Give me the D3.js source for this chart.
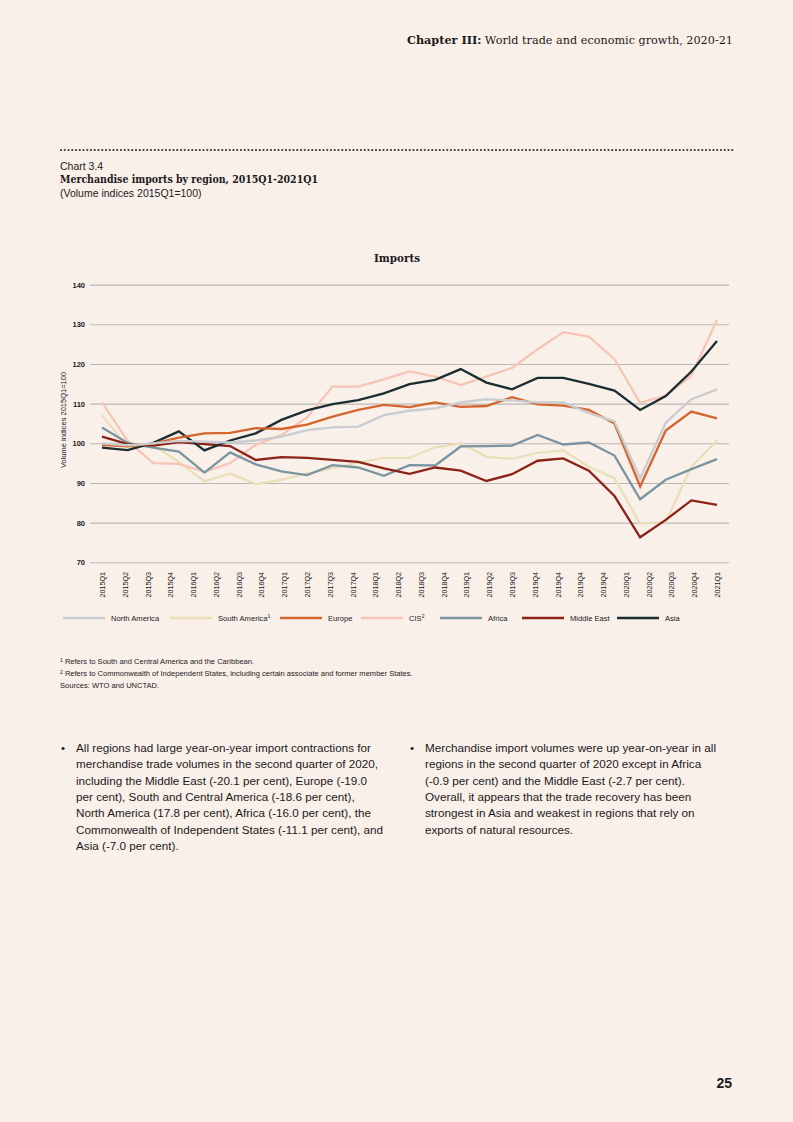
<!DOCTYPE html>
<html>
<head>
<meta charset="utf-8">
<script src="https://cdn.jsdelivr.net/npm/d3@7"></script>
<style>
  html, body { margin: 0; padding: 0; background: #faf0ea; }
  svg { display: block; }
</style>
</head>
<body>
<div id="page"></div>
<script>
// quarters the lines are plotted on
const quarters = [
  "2015Q1", "2015Q2", "2015Q3", "2015Q4",
  "2016Q1", "2016Q2", "2016Q3", "2016Q4",
  "2017Q1", "2017Q2", "2017Q3", "2017Q4",
  "2018Q1", "2018Q2", "2018Q3", "2018Q4",
  "2019Q1", "2019Q2", "2019Q3", "2019Q4",
  "2020Q1", "2020Q2", "2020Q3", "2020Q4",
  "2021Q1"
];

// labels as printed under the axis (the source repeats 2019Q4)
const tickLabels = [
  "2015Q1", "2015Q2", "2015Q3", "2015Q4",
  "2016Q1", "2016Q2", "2016Q3", "2016Q4",
  "2017Q1", "2017Q2", "2017Q3", "2017Q4",
  "2018Q1", "2018Q2", "2018Q3", "2018Q4",
  "2019Q1", "2019Q2", "2019Q3", "2019Q4",
  "2019Q4", "2019Q4", "2019Q4",
  "2020Q1", "2020Q2", "2020Q3", "2020Q4", "2021Q1"
];

const yTicks = [70, 80, 90, 100, 110, 120, 130, 140];

const northAmerica = [100.0, 99.5, 100.0, 100.6, 100.4, 100.2, 100.7, 101.7, 103.3, 104.0, 104.2, 107.1, 108.2, 108.8, 110.3, 111.1, 110.8, 110.3, 110.3, 107.6, 105.5, 91.2, 105.2, 111.1, 113.6];
const southAmerica = [107.1, 99.0, 99.5, 95.3, 90.4, 92.4, 89.7, 90.8, 92.4, 93.7, 95.1, 96.3, 96.3, 99.0, 100.0, 96.6, 96.1, 97.6, 98.2, 94.1, 91.2, 79.7, 80.2, 94.1, 100.7];
const europe = [99.6, 99.2, 99.9, 101.4, 102.5, 102.6, 103.8, 103.6, 104.7, 106.7, 108.4, 109.7, 109.1, 110.3, 109.2, 109.4, 111.6, 109.8, 109.5, 108.4, 105.0, 89.1, 103.2, 108.0, 106.3];
const cis = [110.3, 100.6, 95.0, 94.8, 92.8, 95.0, 99.6, 102.1, 106.5, 114.3, 114.3, 116.1, 118.1, 116.8, 114.7, 116.8, 119.0, 123.7, 128.0, 126.9, 121.2, 110.2, 112.0, 117.1, 131.1];
const africa = [104.0, 100.1, 98.9, 97.9, 92.6, 97.7, 94.7, 92.9, 92.0, 94.5, 93.9, 91.8, 94.5, 94.4, 99.2, 99.3, 99.4, 102.1, 99.7, 100.2, 96.9, 85.9, 90.8, 93.5, 96.0];
const middleEast = [101.7, 99.8, 99.4, 100.3, 99.8, 99.3, 95.8, 96.5, 96.3, 95.8, 95.3, 93.7, 92.3, 93.9, 93.1, 90.5, 92.2, 95.6, 96.2, 93.1, 86.7, 76.3, 80.7, 85.6, 84.5];
const asia = [98.9, 98.3, 100.1, 103.0, 98.2, 100.7, 102.5, 105.9, 108.3, 109.9, 110.9, 112.6, 114.9, 116.0, 118.7, 115.3, 113.6, 116.5, 116.5, 115.0, 113.3, 108.4, 111.9, 118.1, 125.8];

const series = [
  { name: "North America", sup: "", values: northAmerica, color: "#c9ccd0" },
  { name: "South America", sup: "1", values: southAmerica, color: "#eadfb9" },
  { name: "Europe", sup: "", values: europe, color: "#d5652f" },
  { name: "CIS", sup: "2", values: cis, color: "#f6c5b6" },
  { name: "Africa", sup: "", values: africa, color: "#7a95a0" },
  { name: "Middle East", sup: "", values: middleEast, color: "#8b2317" },
  { name: "Asia", sup: "", values: asia, color: "#1b2d32" }
];
// draw order (last on top)
const drawOrder = ["South America", "CIS", "Africa", "Middle East", "Asia", "Europe", "North America"];

const W = 793, H = 1122;
const ink = "#1a1a1a";
const sans = "'Liberation Sans', Arial, sans-serif";
const serif = "'DejaVu Serif', serif";

const svg = d3.select("#page").append("svg")
  .attr("width", W).attr("height", H)
  .attr("viewBox", [0, 0, W, H]);

// running header
const head = svg.append("text")
  .attr("x", 733).attr("y", 44)
  .attr("text-anchor", "end")
  .attr("font-family", serif)
  .attr("font-size", 11.5)
  .attr("fill", ink)
  .attr("textLength", 326)
  .attr("lengthAdjust", "spacingAndGlyphs");
head.append("tspan").attr("font-weight", "bold").text("Chapter III:");
head.append("tspan").text(" World trade and economic growth, 2020-21");

// dotted rule
svg.append("line")
  .attr("x1", 61).attr("x2", 733)
  .attr("y1", 150).attr("y2", 150)
  .attr("stroke", "#333")
  .attr("stroke-width", 2.2)
  .attr("stroke-linecap", "round")
  .attr("stroke-dasharray", "0 3.75");

svg.append("text")
  .attr("x", 60).attr("y", 170)
  .attr("font-family", sans).attr("font-size", 10.5).attr("fill", ink)
  .text("Chart 3.4");
svg.append("text")
  .attr("x", 60).attr("y", 183)
  .attr("font-family", serif).attr("font-size", 10.5).attr("font-weight", "bold").attr("fill", ink)
  .attr("textLength", 258).attr("lengthAdjust", "spacingAndGlyphs")
  .text("Merchandise imports by region, 2015Q1-2021Q1");
svg.append("text")
  .attr("x", 60).attr("y", 197)
  .attr("font-family", sans).attr("font-size", 10.5).attr("fill", ink)
  .text("(Volume indices 2015Q1=100)");

// chart title
svg.append("text")
  .attr("x", 397).attr("y", 262)
  .attr("text-anchor", "middle")
  .attr("font-family", serif).attr("font-size", 11.5).attr("font-weight", "bold").attr("fill", ink)
  .attr("textLength", 46).attr("lengthAdjust", "spacingAndGlyphs")
  .text("Imports");

// scales
const plotLeft = 90, plotRight = 729;
const y = d3.scaleLinear().domain([70, 140]).range([562.3, 284.6]);
const x = d3.scalePoint().domain(quarters).range([102, 717]);
const xLab = d3.scalePoint().domain(d3.range(tickLabels.length)).range([102, 717]);

// y gridlines + labels
const yAxisG = svg.append("g")
  .attr("transform", `translate(${plotLeft},0)`)
  .call(d3.axisLeft(y).tickValues(yTicks).tickSize(-(plotRight - plotLeft)).tickPadding(5))
  .call(g => g.select(".domain").remove());
yAxisG.selectAll(".tick line").attr("stroke", "#bdb8b4").attr("stroke-width", 1.1);
yAxisG.selectAll(".tick text")
  .attr("font-family", sans).attr("font-size", 7.5).attr("font-weight", "bold").attr("fill", ink);

svg.append("text")
  .attr("transform", `translate(66,420) rotate(-90)`)
  .attr("text-anchor", "middle")
  .attr("font-family", sans).attr("font-size", 7.5).attr("fill", ink)
  .text("Volume indices 2015Q1=100");

// x labels
const xAxisG = svg.append("g")
  .attr("transform", "translate(0,568)")
  .call(d3.axisBottom(xLab).tickSize(0).tickFormat(i => tickLabels[i]))
  .call(g => g.select(".domain").remove());
xAxisG.selectAll(".tick text")
  .attr("font-family", sans).attr("font-size", 7.2).attr("fill", ink)
  .attr("text-anchor", "end")
  .attr("transform", "rotate(-90)")
  .attr("x", -4).attr("y", 0).attr("dy", "0.35em");

// lines
const line = d3.line()
  .x((d, i) => x(quarters[i]))
  .y(d => y(d));

const byName = new Map(series.map(s => [s.name, s]));
svg.append("g")
  .selectAll("path")
  .data(drawOrder.map(n => byName.get(n)))
  .join("path")
  .attr("fill", "none")
  .attr("stroke", d => d.color)
  .attr("stroke-width", 2.3)
  .attr("stroke-linejoin", "miter")
  .attr("d", d => line(d.values));

// legend
const legendX = [63, 170, 280, 361, 440, 522, 617];
const legend = svg.append("g").attr("transform", "translate(0,618)");
const item = legend.selectAll("g")
  .data(series)
  .join("g")
  .attr("transform", (d, i) => `translate(${legendX[i]},0)`);
item.append("line")
  .attr("x1", 0).attr("x2", 42)
  .attr("stroke", d => d.color).attr("stroke-width", 2.6);
const lt = item.append("text")
  .attr("x", 48).attr("y", 2.6)
  .attr("font-family", sans).attr("font-size", 7.6).attr("fill", ink);
lt.append("tspan").text(d => d.name);
lt.append("tspan")
  .attr("dy", -2.6).attr("font-size", 5)
  .text(d => d.sup);

// footnotes
const notes = [
  ["1", " Refers to South and Central America and the Caribbean."],
  ["2", " Refers to Commonwealth of Independent States, including certain associate and former member States."],
  ["", "Sources: WTO and UNCTAD."]
];
svg.append("g").selectAll("text")
  .data(notes)
  .join("text")
  .attr("x", 60).attr("y", (d, i) => 664 + i * 12)
  .attr("font-family", sans).attr("font-size", 7.55).attr("fill", ink)
  .each(function (d) {
    const t = d3.select(this);
    if (d[0]) t.append("tspan").attr("font-size", 5).attr("dy", -2.5).text(d[0]);
    t.append("tspan").attr("dy", d[0] ? 2.5 : 0).text(d[1]);
  });

// body text
const colLeft = [
  "All regions had large year-on-year import contractions for",
  "merchandise trade volumes in the second quarter of 2020,",
  "including the Middle East (-20.1 per cent), Europe (-19.0",
  "per cent), South and Central America (-18.6 per cent),",
  "North America (17.8 per cent), Africa (-16.0 per cent), the",
  "Commonwealth of Independent States (-11.1 per cent), and",
  "Asia (-7.0 per cent)."
];
const colRight = [
  "Merchandise import volumes were up year-on-year in all",
  "regions in the second quarter of 2020 except in Africa",
  "(-0.9 per cent) and the Middle East (-2.7 per cent).",
  "Overall, it appears that the trade recovery has been",
  "strongest in Asia and weakest in regions that rely on",
  "exports of natural resources."
];
function column(lines, bx, tx) {
  const g = svg.append("g");
  g.append("text").attr("x", bx).attr("y", 752)
    .attr("font-family", sans).attr("font-size", 11.7).attr("fill", ink).text("•");
  g.selectAll("text.l")
    .data(lines)
    .join("text")
    .attr("class", "l")
    .attr("x", tx).attr("y", (d, i) => 752 + i * 16.3)
    .attr("font-family", sans).attr("font-size", 11.7).attr("fill", ink)
    .text(d => d);
}
column(colLeft, 61, 76);
column(colRight, 410, 425);

// page number
svg.append("text")
  .attr("x", 732).attr("y", 1088)
  .attr("text-anchor", "end")
  .attr("font-family", sans).attr("font-size", 14).attr("font-weight", "bold").attr("fill", ink)
  .text("25");
</script>
</body>
</html>
